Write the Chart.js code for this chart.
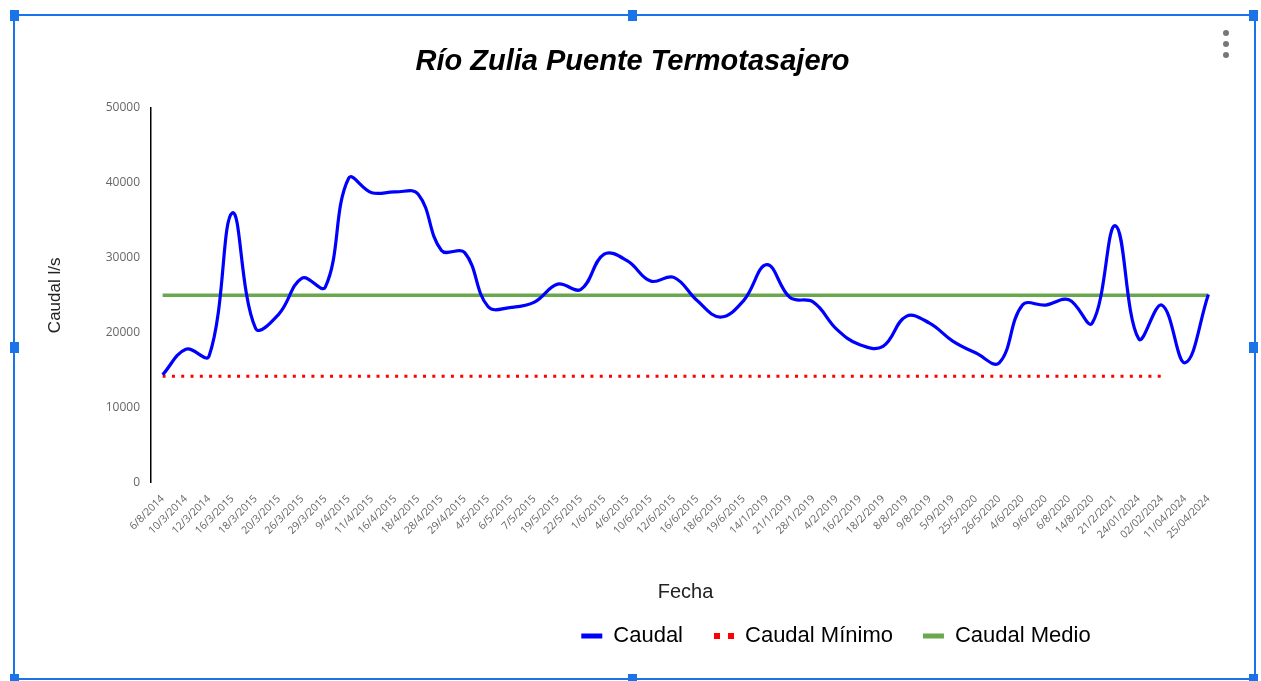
<!DOCTYPE html>
<html>
<head>
<meta charset="utf-8">
<script src="https://cdn.jsdelivr.net/npm/chart.js@4.4.1/dist/chart.umd.min.js"></script>
<style>
  html, body { margin: 0; padding: 0; background: #fff; }
  #wrap { position: relative; width: 1261px; height: 681px; overflow: hidden; }
  #frame { position: absolute; left: 13px; top: 14px; width: 1239px; height: 662px; border: 2px solid #1a73e8; box-sizing: content-box; pointer-events: none; }
  .h { position: absolute; width: 9px; height: 11px; background: #1a73e8; }
  .dot { position: absolute; left: 1223px; width: 6px; height: 6px; border-radius: 3px; background: #777; }
  canvas { position: absolute; left: 0; top: 0; }
</style>
</head>
<body>
<div id="wrap">
  <canvas id="grafica" width="1261" height="681"></canvas>
  <div id="frame"></div>
  <div class="h" style="left:10px;top:10px"></div>
  <div class="h" style="left:628px;top:10px"></div>
  <div class="h" style="left:1249px;top:10px"></div>
  <div class="h" style="left:10px;top:342px"></div>
  <div class="h" style="left:1249px;top:342px"></div>
  <div class="h" style="left:10px;top:674px"></div>
  <div class="h" style="left:628px;top:674px"></div>
  <div class="h" style="left:1249px;top:674px"></div>
  <div class="dot" style="top:30px"></div>
  <div class="dot" style="top:41px"></div>
  <div class="dot" style="top:52px"></div>
</div>
<script>
var fechas = ['6/8/2014', '10/3/2014', '12/3/2014', '16/3/2015', '18/3/2015', '20/3/2015', '26/3/2015', '29/3/2015',
    '9/4/2015', '11/4/2015', '16/4/2015', '18/4/2015', '28/4/2015', '29/4/2015', '4/5/2015', '6/5/2015', '7/5/2015',
    '19/5/2015', '22/5/2015', '1/6/2015', '4/6/2015', '10/6/2015', '12/6/2015', '16/6/2015', '18/6/2015', '19/6/2015',
    '14/1/2019', '21/1/2019', '28/1/2019', '4/2/2019', '16/2/2019', '18/2/2019', '8/8/2019', '9/8/2019', '5/9/2019',
    '25/5/2020', '26/5/2020', '4/6/2020', '9/6/2020', '6/8/2020', '14/8/2020', '21/2/2021', '24/01/2024', '02/02/2024',
    '11/04/2024', '25/04/2024'];

var caudal = [14400, 17800, 16900, 36000, 20600, 22500, 27300, 26100,
    40600, 38700, 38800, 38500, 31000, 30700, 23500, 23400, 24100,
    26500, 25800, 30500, 29600, 26900, 27400, 24300, 22100, 24300,
    29100, 24700, 24100, 20500, 18400, 18200, 22200, 21300, 18900,
    17300, 16000, 23700, 23700, 24400, 21300, 34300, 19200, 23700,
    16000, 25100];

var caudalMinimo = [14200, 14200, 14200, 14200, 14200, 14200, 14200, 14200,
    14200, 14200, 14200, 14200, 14200, 14200, 14200, 14200, 14200,
    14200, 14200, 14200, 14200, 14200, 14200, 14200, 14200, 14200,
    14200, 14200, 14200, 14200, 14200, 14200, 14200, 14200, 14200,
    14200, 14200, 14200, 14200, 14200, 14200, 14200, 14200, 14200,
    null, null];

var caudalMedio = [25000, 25000, 25000, 25000, 25000, 25000, 25000, 25000,
    25000, 25000, 25000, 25000, 25000, 25000, 25000, 25000, 25000,
    25000, 25000, 25000, 25000, 25000, 25000, 25000, 25000, 25000,
    25000, 25000, 25000, 25000, 25000, 25000, 25000, 25000, 25000,
    25000, 25000, 25000, 25000, 25000, 25000, 25000, 25000, 25000,
    25000, 25000];

var fondoBlanco = {
    id: 'fondoBlanco',
    beforeDraw: function (chart) {
        var ctx = chart.ctx;
        ctx.save();
        ctx.fillStyle = '#ffffff';
        ctx.fillRect(0, 0, chart.width, chart.height);
        ctx.restore();
    }
};

// la leyenda de la referencia no esta centrada: se mueve a su sitio
// y se dibujan los dos puntos rojos del caudal minimo
var ajustarLeyenda = {
    id: 'ajustarLeyenda',
    afterLayout: function (chart) {
        var l = chart.legend;
        var lab = l.options.labels;
        var itemH = Math.max(lab.boxHeight, lab.font.size);
        var dx = 836 - (l.left + l.right) / 2;
        var dy = 636 - (l.top + lab.padding + itemH / 2);
        l.left += dx; l.right += dx;
        l.top += dy; l.bottom += dy;
    },
    afterDraw: function (chart) {
        var b = chart.legend.legendHitBoxes[1];
        if (!b) return;
        var ctx = chart.ctx;
        var cy = b.top + b.height / 2;
        ctx.save();
        ctx.fillStyle = '#ff0000';
        ctx.fillRect(b.left + 1, cy - 3, 6, 6);
        ctx.fillRect(b.left + 15, cy - 3, 6, 6);
        ctx.restore();
    }
};

var ctx = document.getElementById('grafica').getContext('2d');
var grafica = new Chart(ctx, {
    type: 'line',
    data: {
        labels: fechas,
        datasets: [
            {
                label: 'Caudal',
                data: caudal,
                borderColor: '#0000ff',
                backgroundColor: '#0000ff',
                borderWidth: 3.2,
                pointRadius: 0,
                tension: 0.4
            },
            {
                label: 'Caudal Mínimo',
                data: caudalMinimo,
                borderColor: '#ff0000',
                backgroundColor: '#ff0000',
                borderWidth: 3,
                borderDash: [3, 6.3],
                pointRadius: 0
            },
            {
                label: 'Caudal Medio',
                data: caudalMedio,
                borderColor: '#6aa84f',
                backgroundColor: '#6aa84f',
                borderWidth: 3.5,
                pointRadius: 0
            }
        ]
    },
    options: {
        responsive: false,
        animation: false,
        layout: {
            padding: { left: 45, right: 41, top: 28, bottom: 12 }
        },
        plugins: {
            title: {
                display: true,
                text: 'Río Zulia Puente Termotasajero',
                color: '#000',
                font: { family: 'Liberation Sans', size: 29, weight: 'bold', style: 'italic' },
                padding: { top: 17, bottom: 28.2 }
            },
            legend: {
                position: 'bottom',
                labels: {
                    color: '#222',
                    font: { family: 'Liberation Sans', size: 22 },
                    boxWidth: 21,
                    boxHeight: 5,
                    padding: 30,
                    generateLabels: function (chart) {
                        return chart.data.datasets.map(function (ds, i) {
                            var color = i === 1 ? 'rgba(0,0,0,0)' : ds.borderColor;
                            return {
                                text: ds.label, datasetIndex: i,
                                fillStyle: color, strokeStyle: color,
                                lineWidth: 0, hidden: false
                            };
                        });
                    }
                }
            },
            tooltip: { enabled: false }
        },
        scales: {
            x: {
                offset: true,
                grid: { display: false },
                border: { display: false },
                ticks: {
                    autoSkip: false,
                    maxRotation: 45,
                    minRotation: 45,
                    color: '#666',
                    padding: 2,
                    font: { family: 'Open Sans', size: 10.5 }
                },
                title: {
                    display: true,
                    text: 'Fecha',
                    color: '#222',
                    font: { family: 'Liberation Sans', size: 20 },
                    padding: { top: 37, bottom: 3 }
                }
            },
            y: {
                min: 0,
                max: 50000,
                grid: { display: false },
                border: { display: true, color: '#000', width: 1.5 },
                ticks: {
                    stepSize: 10000,
                    color: '#666',
                    padding: 3,
                    font: { family: 'Open Sans', size: 12 },
                    callback: function (v) { return String(v); }
                },
                title: {
                    display: true,
                    text: 'Caudal l/s',
                    color: '#222',
                    font: { family: 'Liberation Sans', size: 17 },
                    padding: { top: 0, bottom: 40 }
                },
                afterFit: function (scale) {
                    scale.width = 106;
                }
            }
        }
    },
    plugins: [fondoBlanco, ajustarLeyenda]
});
</script>
</body>
</html>
